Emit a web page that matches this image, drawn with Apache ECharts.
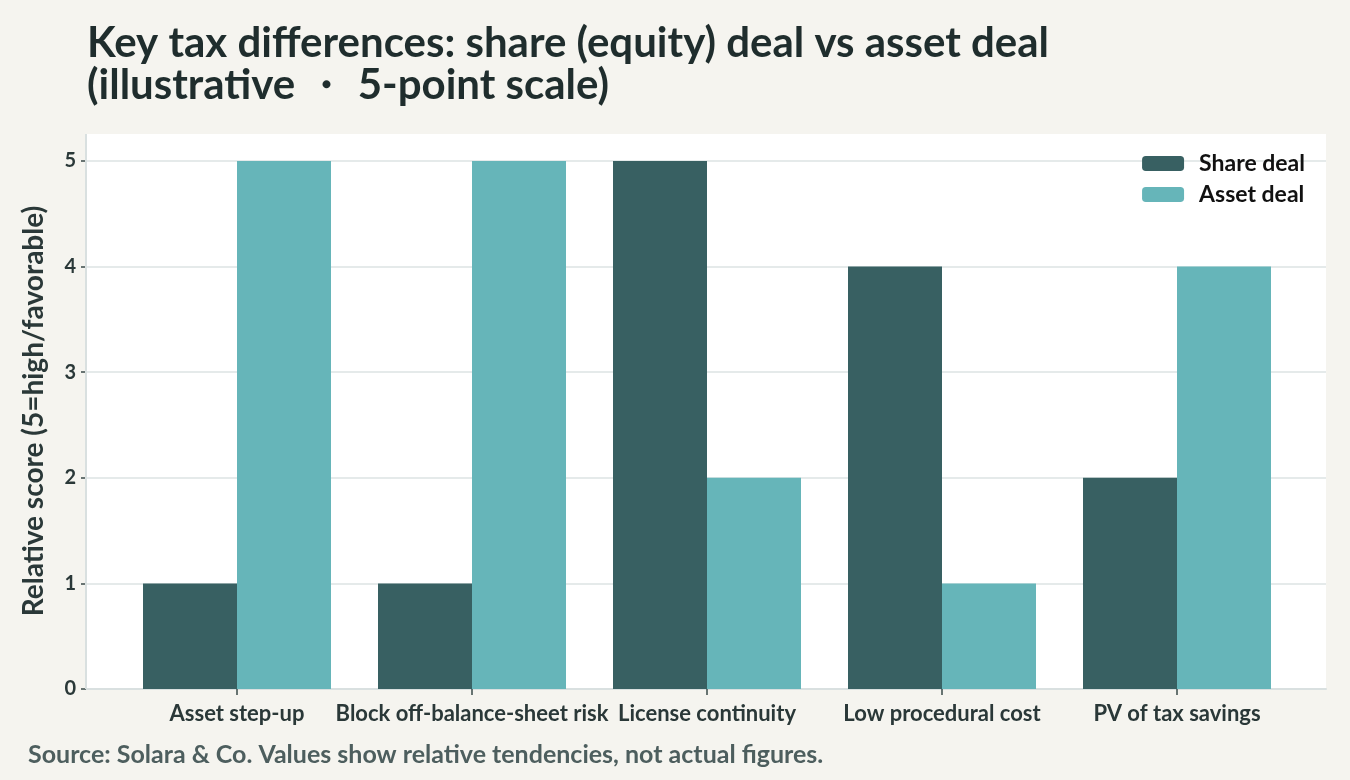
<!DOCTYPE html>
<html lang="en">
<head>
    <meta charset="UTF-8">
    <title>Share deal vs asset deal</title>
    <style>
        html, body {
            margin: 0;
            padding: 0;
            background: #f5f4ef;
        }

        #chart {
            width: 1350px;
            height: 780px;
        }
    </style>
</head>
<body>
<div id="chart"></div>
<script src="https://cdn.jsdelivr.net/npm/echarts@6/dist/echarts.min.js"></script>
<script>
    var categories = ['Asset step-up', 'Block off-balance-sheet risk', 'License continuity', 'Low procedural cost', 'PV of tax savings'];
    var shareDeal = [1, 1, 5, 4, 2];
    var assetDeal = [5, 5, 2, 1, 4];
    var yTicks = [0, 1, 2, 3, 4, 5];

    var font = 'Lato';
    var dark = '#1f2d2d';

    var chart = echarts.init(document.getElementById('chart'));

    var graphics = [
        {
            // white plot panel behind both grids
            type: 'rect',
            z: -10,
            shape: {x: 86, y: 134, width: 1240, height: 555},
            style: {fill: '#ffffff'}
        },
        {
            // y axis rule on the panel's left edge
            type: 'line',
            z: 5,
            shape: {x1: 86, y1: 134, x2: 86, y2: 689},
            style: {stroke: '#d9e0e0', lineWidth: 2}
        },
        {
            type: 'text',
            left: 28,
            top: 742,
            style: {
                text: 'Source: Solara & Co. Values show relative tendencies, not actual figures.',
                font: 'bold 25px ' + font,
                fill: '#4d5e5e'
            }
        }
    ];

    var option = {
        backgroundColor: '#f5f4ef',
        textStyle: {fontFamily: font},
        title: {
            text: 'Key tax differences: share (equity) deal vs asset deal\n(illustrative \u30FB 5-point scale)',
            left: 82,
            top: 17,
            textStyle: {
                fontFamily: font,
                fontSize: 42,
                fontWeight: 'bold',
                color: dark,
                lineHeight: 42
            }
        },
        graphic: graphics,
        legend: {
            right: 40,
            top: 147,
            orient: 'vertical',
            itemWidth: 42,
            itemHeight: 15,
            itemGap: 8,
            textStyle: {
                fontFamily: font,
                fontSize: 23,
                fontWeight: 'bold',
                color: '#111',
                padding: [0, 0, 0, 10]
            },
            data: ['Share deal', 'Asset deal']
        },
        grid: [
            {left: 86, right: 24, top: 161, bottom: 91},
            {left: 119.5, right: 55.5, top: 161, bottom: 91}
        ],
        xAxis: [
            {
                gridIndex: 0,
                type: 'value',
                min: 0,
                max: 1,
                axisLabel: {show: false},
                axisTick: {show: false},
                splitLine: {show: false},
                axisLine: {show: true, lineStyle: {color: '#d9e0e0', width: 2}}
            },
            {
                gridIndex: 1,
                type: 'category',
                data: categories,
                axisLine: {show: false},
                axisTick: {show: true, alignWithLabel: true, length: 6, lineStyle: {color: '#3a4a4a', width: 1.5}},
                axisLabel: {
                    interval: 0,
                    margin: 14,
                    fontFamily: font,
                    fontSize: 22,
                    fontWeight: 'bold',
                    color: '#2a3838'
                }
            }
        ],
        yAxis: [
            {
                gridIndex: 0,
                type: 'value',
                min: yTicks[0],
                max: yTicks[yTicks.length - 1],
                interval: 1,
                name: 'Relative score (5=high/favorable)',
                nameLocation: 'middle',
                nameGap: 38,
                nameTextStyle: {
                    fontFamily: font,
                    fontSize: 28,
                    fontWeight: 'bold',
                    color: '#2a3838',
                    padding: [0, 0, 0, 28]
                },
                axisLine: {show: false},
                axisTick: {show: true, length: 5, lineStyle: {color: '#3a4a4a', width: 1.5}},
                axisLabel: {
                    margin: 10,
                    fontFamily: font,
                    fontSize: 20,
                    fontWeight: 'bold',
                    color: '#2a3838'
                },
                splitLine: {show: true, lineStyle: {color: '#dde3e3', width: 1.5}}
            },
            {
                gridIndex: 1,
                type: 'value',
                min: yTicks[0],
                max: yTicks[yTicks.length - 1],
                interval: 1,
                show: false
            }
        ],
        series: [
            {
                name: 'Share deal',
                type: 'bar',
                xAxisIndex: 1,
                yAxisIndex: 1,
                data: shareDeal,
                barGap: '0%',
                barCategoryGap: '20%',
                itemStyle: {color: '#386062'}
            },
            {
                name: 'Asset deal',
                type: 'bar',
                xAxisIndex: 1,
                yAxisIndex: 1,
                data: assetDeal,
                barGap: '0%',
                barCategoryGap: '20%',
                itemStyle: {color: '#66b5b9'}
            }
        ]
    };

    chart.setOption(option);
</script>
</body>
</html>
